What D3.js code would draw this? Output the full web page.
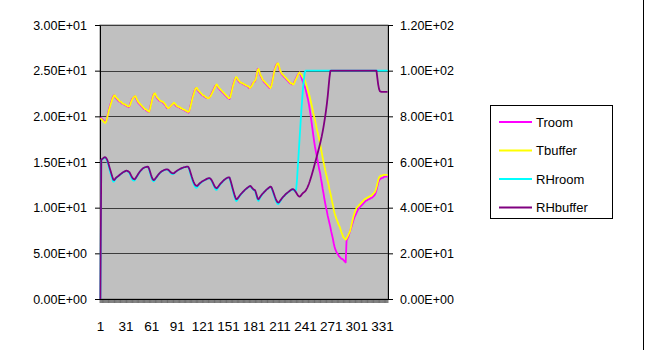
<!DOCTYPE html>
<html>
<head>
<meta charset="utf-8">
<script src="https://cdn.jsdelivr.net/npm/d3@7"></script>
<style>
body { margin: 0; background: #fff; }
svg text { font-family: "Liberation Sans", Arial, sans-serif; }
</style>
</head>
<body>
<div id="chart"></div>
<script>
// category index 1..337 (one sample each)
const categories = d3.range(1, 338);
const xLabels = [1, 31, 61, 91, 121, 151, 181, 211, 241, 271, 301, 331];
const leftTicks = [0, 5, 10, 15, 20, 25, 30];
const rightTicks = [0, 20, 40, 60, 80, 100, 120];
const seriesNames = ["Troom", "Tbuffer", "RHroom", "RHbuffer"];

const troom = [
19.9,19.8,19.7,19.6,19.5,19.4,19.4,19.6,20.0,20.4,
20.8,21.1,21.4,21.7,22.0,22.2,22.3,22.2,22.0,21.9,
21.8,21.7,21.6,21.6,21.5,21.4,21.4,21.3,21.3,21.2,
21.2,21.1,21.1,21.0,21.1,21.4,21.7,21.9,22.0,22.1,
22.2,22.1,21.9,21.7,21.5,21.4,21.3,21.2,21.1,21.0,
20.9,20.8,20.8,20.7,20.6,20.6,20.5,20.5,20.9,21.3,
21.7,22.1,22.4,22.5,22.4,22.2,22.0,21.9,21.8,21.7,
21.7,21.6,21.6,21.5,21.4,21.3,21.2,21.0,20.9,20.9,
20.9,21.0,21.1,21.2,21.3,21.4,21.4,21.3,21.2,21.1,
21.1,21.0,21.0,20.9,20.9,20.8,20.8,20.7,20.7,20.6,
20.6,20.5,20.5,20.4,20.6,21.0,21.4,21.8,22.2,22.5,
22.8,23.0,23.1,23.0,22.8,22.7,22.6,22.5,22.4,22.3,
22.3,22.2,22.1,22.1,22.0,22.0,22.0,22.0,22.1,22.3,
22.5,22.7,22.9,23.1,23.3,23.4,23.4,23.3,23.1,23.0,
22.9,22.8,22.7,22.6,22.5,22.4,22.3,22.2,22.1,22.0,
22.0,21.9,22.2,22.6,23.0,23.4,23.7,24.0,24.2,24.2,
24.1,23.9,23.8,23.7,23.7,23.6,23.6,23.5,23.5,23.4,
23.4,23.3,23.3,23.2,23.1,23.1,23.2,23.4,23.6,23.7,
23.8,23.8,24.2,24.7,25.2,25.1,24.8,24.5,24.3,24.1,
24.0,23.8,23.7,23.6,23.5,23.4,23.3,23.2,23.1,23.1,
23.4,23.8,24.3,24.8,25.2,25.5,25.7,25.8,25.7,25.3,
25.0,24.8,24.6,24.5,24.4,24.3,24.2,24.1,24.0,23.9,
23.8,23.7,23.6,23.6,23.5,23.5,23.6,23.8,24.0,24.2,
24.4,24.6,24.7,24.8,24.6,24.3,24.0,23.8,23.5,23.3,
23.0,22.6,22.2,21.8,21.3,20.7,20.1,19.4,18.7,18.0,
17.3,16.7,16.2,15.7,15.2,14.7,14.2,13.8,13.2,12.7,
12.1,11.6,11.0,10.5,10.0,9.6,9.1,8.7,8.3,7.9,
7.4,7.0,6.6,6.1,5.7,5.4,5.2,5.0,4.9,4.7,
4.6,4.5,4.4,4.4,4.3,4.2,4.1,4.0,6.4,6.6,
6.8,7.1,7.4,7.7,8.0,8.3,8.6,8.9,9.1,9.3,
9.5,9.7,9.9,10.0,10.1,10.2,10.3,10.4,10.5,10.6,
10.7,10.8,10.8,10.9,10.9,11.0,11.0,11.1,11.1,11.2,
11.3,11.4,11.6,11.9,12.3,12.7,13.0,13.1,13.2,13.2,
13.3,13.3,13.4,13.4,13.4,13.4,13.4
];

const tbuffer = [
19.8,19.7,19.6,19.5,19.4,19.3,19.3,19.5,19.9,20.3,
20.7,21.0,21.3,21.6,21.9,22.1,22.3,22.3,22.1,22.0,
21.9,21.8,21.7,21.6,21.6,21.5,21.4,21.4,21.3,21.3,
21.2,21.2,21.1,21.1,21.1,21.3,21.6,21.8,22.0,22.1,
22.2,22.2,22.0,21.8,21.6,21.5,21.4,21.3,21.2,21.1,
21.0,20.9,20.8,20.8,20.7,20.6,20.6,20.5,20.8,21.2,
21.6,22.0,22.3,22.5,22.5,22.3,22.1,22.0,21.9,21.8,
21.7,21.7,21.6,21.6,21.5,21.4,21.3,21.1,21.0,20.9,
20.9,21.0,21.1,21.2,21.3,21.4,21.5,21.4,21.3,21.2,
21.1,21.1,21.0,21.0,20.9,20.9,20.8,20.8,20.7,20.7,
20.6,20.6,20.5,20.5,20.6,20.9,21.3,21.7,22.1,22.4,
22.7,23.0,23.1,23.1,22.9,22.8,22.7,22.6,22.5,22.4,
22.3,22.3,22.2,22.1,22.1,22.0,22.0,22.0,22.1,22.2,
22.4,22.6,22.8,23.0,23.2,23.4,23.5,23.4,23.2,23.1,
23.0,22.9,22.8,22.7,22.6,22.5,22.4,22.3,22.2,22.1,
22.0,22.0,22.1,22.5,22.9,23.3,23.6,23.9,24.2,24.3,
24.2,24.0,23.9,23.8,23.7,23.7,23.6,23.6,23.5,23.5,
23.4,23.4,23.3,23.3,23.2,23.1,23.2,23.3,23.5,23.7,
23.8,23.9,24.1,24.6,25.1,25.2,24.9,24.6,24.4,24.2,
24.0,23.9,23.8,23.7,23.6,23.5,23.4,23.3,23.2,23.1,
23.3,23.7,24.2,24.7,25.1,25.4,25.6,25.8,25.8,25.5,
25.1,24.9,24.7,24.6,24.5,24.4,24.3,24.2,24.1,24.0,
23.9,23.8,23.7,23.6,23.6,23.5,23.5,23.7,23.9,24.1,
24.3,24.5,24.7,24.8,24.7,24.6,24.4,24.3,24.1,24.0,
23.7,23.4,23.1,22.8,22.5,22.1,21.7,21.3,20.9,20.4,
20.0,19.6,19.2,18.7,18.3,17.9,17.5,17.0,16.5,16.0,
15.5,15.0,14.6,14.1,13.7,13.3,12.9,12.5,12.0,11.6,
11.2,10.7,10.3,9.8,9.4,9.1,8.8,8.6,8.3,8.1,
7.9,7.6,7.3,7.1,6.8,6.7,6.6,6.5,6.6,6.8,
7.0,7.2,7.4,7.8,8.2,8.6,9.0,9.3,9.6,9.8,
10.0,10.1,10.2,10.3,10.4,10.5,10.6,10.7,10.8,10.9,
11.0,11.0,11.1,11.1,11.2,11.2,11.3,11.3,11.4,11.5,
11.6,11.7,11.9,12.2,12.6,13.0,13.3,13.4,13.5,13.5,
13.5,13.6,13.6,13.6,13.6,13.6,13.6
];

const rhroom = [
0,60.8,61.1,61.4,61.7,61.9,61.8,61.2,60.3,59.0,
57.6,56.2,54.8,53.5,52.3,51.4,51.5,52.1,52.7,53.1,
53.5,53.8,54.1,54.4,54.7,55.0,55.3,55.5,55.7,55.9,
56.1,56.1,55.8,55.5,55.0,54.2,53.3,52.5,52.0,51.8,
51.9,52.5,53.2,53.8,54.4,55.0,55.6,56.1,56.5,56.9,
57.2,57.4,57.6,57.7,57.8,57.9,57.7,56.6,55.3,54.0,
52.8,51.9,51.5,51.7,52.3,52.9,53.4,54.0,54.5,54.9,
55.3,55.6,55.9,56.1,56.3,56.5,56.6,56.7,56.7,56.5,
56.2,55.7,55.2,54.9,54.7,54.7,54.9,55.3,55.6,55.9,
56.2,56.4,56.6,56.8,57.0,57.2,57.3,57.5,57.6,57.7,
57.8,57.9,57.9,57.6,56.6,55.2,53.9,52.6,51.5,50.5,
49.7,49.0,48.7,48.8,49.3,49.8,50.3,50.7,51.0,51.3,
51.6,51.8,52.0,52.2,52.4,52.6,52.7,52.8,52.8,52.4,
51.8,51.0,50.1,49.2,48.4,47.9,47.8,48.3,48.9,49.5,
50.0,50.5,50.9,51.3,51.7,52.1,52.4,52.7,52.9,53.1,
53.2,53.1,51.7,50.3,48.8,47.3,45.9,44.6,43.5,42.9,
43.2,43.9,44.5,45.1,45.6,46.0,46.5,46.9,47.3,47.7,
48.0,48.3,48.6,48.9,49.2,49.4,49.2,48.6,48.1,47.8,
47.6,47.3,46.0,44.6,43.4,43.0,43.7,44.4,45.0,45.6,
46.1,46.5,46.9,47.3,47.7,48.0,48.3,48.6,48.9,49.1,
48.8,47.8,46.7,45.5,44.3,43.3,42.4,41.7,41.5,41.9,
42.5,43.1,43.7,44.2,44.7,45.1,45.5,45.9,46.2,46.5,
46.8,47.1,47.4,47.7,47.9,48.0,47.8,47.4,47.0,48.0,
52.0,58.0,64.0,70.0,76.0,82.0,87.0,92.0,96.0,99.0,
100,100,100,100,100,100,100,100,100,100,
100,100,100,100,100,100,100,100,100,100,
100,100,100,100,100,100,100,100,100,100,
100,100,100,100,100,100,100,100,100,100,
100,100,100,100,100,100,100,100,100,100,
100,100,100,100,100,100,100,100,100,100,
100,100,100,100,100,100,100,100,100,100,
100,100,100,100,100,100,100,100,100,100,
100,100,100,100,100,100,100,100,100,100,
100,100,100,100,100,100,100
];

const rhbuffer = [
0,61.0,61.3,61.6,61.9,62.1,62.0,61.6,60.9,59.8,
58.5,57.2,55.9,54.6,53.4,52.3,52.1,52.5,53.0,53.3,
53.6,53.9,54.2,54.5,54.8,55.1,55.4,55.6,55.8,56.0,
56.2,56.2,56.0,55.8,55.5,54.8,54.0,53.3,52.8,52.5,
52.4,52.8,53.4,54.0,54.6,55.2,55.7,56.2,56.6,57.0,
57.3,57.5,57.7,57.8,57.9,58.0,57.9,57.0,55.8,54.6,
53.5,52.6,52.1,52.2,52.6,53.1,53.6,54.1,54.6,55.0,
55.4,55.7,56.0,56.2,56.4,56.6,56.7,56.8,56.8,56.7,
56.4,56.0,55.6,55.3,55.1,55.0,55.1,55.4,55.7,56.0,
56.3,56.5,56.7,56.9,57.1,57.3,57.4,57.6,57.7,57.8,
57.9,58.0,58.0,57.8,57.0,55.8,54.6,53.4,52.3,51.3,
50.5,49.9,49.6,49.5,49.8,50.2,50.6,50.9,51.2,51.5,
51.7,51.9,52.1,52.3,52.5,52.7,52.8,52.9,52.9,52.6,
52.1,51.4,50.6,49.8,49.1,48.7,48.5,48.8,49.3,49.8,
50.3,50.7,51.1,51.5,51.9,52.2,52.5,52.8,53.0,53.2,
53.3,53.3,52.2,50.9,49.5,48.1,46.8,45.5,44.4,43.7,
43.8,44.3,44.8,45.3,45.8,46.2,46.6,47.0,47.4,47.8,
48.1,48.4,48.7,49.0,49.3,49.5,49.4,48.9,48.4,48.0,
47.8,47.6,46.5,45.2,44.0,43.7,44.2,44.8,45.3,45.8,
46.2,46.6,47.0,47.4,47.8,48.1,48.4,48.7,49.0,49.2,
49.0,48.2,47.2,46.1,45.0,44.0,43.1,42.5,42.2,42.4,
42.9,43.4,43.9,44.4,44.8,45.2,45.6,46.0,46.3,46.6,
46.9,47.2,47.5,47.8,48.0,48.1,48.0,47.7,47.2,46.6,
46.0,45.4,45.0,44.8,45.0,45.5,46.0,46.4,46.7,47.0,
47.4,48.0,48.7,49.5,50.5,51.6,52.8,54.0,55.3,56.6,
58.0,59.4,60.8,62.2,63.6,65.0,66.5,68.0,69.6,71.3,
73.2,75.3,77.6,80.0,82.6,85.6,89.0,93.0,97.0,99.8,
100,100,100,100,100,100,100,100,100,100,
100,100,100,100,100,100,100,100,100,100,
100,100,100,100,100,100,100,100,100,100,
100,100,100,100,100,100,100,100,100,100,
100,100,100,100,100,100,100,100,100,100,
100,100,100,100,97.0,94.0,92.0,91.0,90.8,90.7,
90.7,90.7,90.7,90.7,90.7,90.7,90.7
];

const colors = ["#FF00FF", "#FFFF00", "#00FFFF", "#800080"];

const W = 645, H = 350;
const padL = 100, padR = 388, padT = 25, padB = 299;

const svg = d3.select("#chart").append("svg")
    .attr("width", W)
    .attr("height", H);

const x = d3.scaleBand().domain(categories).range([padL, padR]);
const yL = d3.scaleLinear().domain([0, 30]).range([padB, padT]);
const yR = d3.scaleLinear().domain([0, 120]).range([padB, padT]);

function sci(v){
    // Excel style 0.00E+00
    let s = v.toExponential(2).toUpperCase();
    let parts = s.split("E");
    let exp = parseInt(parts[1]);
    let sign = exp < 0 ? "-" : "+";
    let e = Math.abs(exp);
    return parts[0] + "E" + sign + (e < 10 ? "0" + e : e);
}

// plot area
svg.append("rect")
    .attr("x", padL).attr("y", padT)
    .attr("width", padR - padL).attr("height", padB - padT)
    .attr("fill", "#C0C0C0")
    .attr("stroke", "#808080");

// gridlines
svg.selectAll(".grid")
    .data(leftTicks.filter(d => d > 0))
    .enter()
    .append("line")
    .attr("x1", padL).attr("x2", padR)
    .attr("y1", d => Math.round(yL(d)) + 0.5)
    .attr("y2", d => Math.round(yL(d)) + 0.5)
    .attr("stroke", "#3c3c3c");

// axes
const gl = svg.append("g")
    .attr("transform", "translate(" + padL + ",0)")
    .call(d3.axisLeft(yL).tickValues(leftTicks).tickFormat(sci).tickSize(5).tickSizeOuter(0).tickPadding(8));
const gr = svg.append("g")
    .attr("transform", "translate(" + padR + ",0)")
    .call(d3.axisRight(yR).tickValues(rightTicks).tickFormat(sci).tickSize(5).tickSizeOuter(0).tickPadding(7));
[gl, gr].forEach(g => {
    g.selectAll("text").attr("font-size", 12.5).attr("fill", "#000")
        .style("font-family", "'Liberation Sans', Arial, sans-serif");
    g.select(".domain").attr("stroke", "#000");
    g.selectAll(".tick line").attr("stroke", "#000");
});

// category ticks along the bottom
const bw = x.bandwidth();
svg.selectAll(".ctick")
    .data(categories.concat([categories.length + 1]))
    .enter()
    .append("line")
    .attr("x1", (d, i) => padL + i * bw)
    .attr("x2", (d, i) => padL + i * bw)
    .attr("y1", padB)
    .attr("y2", padB + 4)
    .attr("stroke", "#000")
    .attr("stroke-width", 0.5);

svg.append("line")
    .attr("x1", padL).attr("x2", padR)
    .attr("y1", padB + 0.5).attr("y2", padB + 0.5)
    .attr("stroke", "#000");

svg.selectAll(".xlab")
    .data(xLabels)
    .enter()
    .append("text")
    .attr("x", d => x(d) + bw / 2)
    .attr("y", 331)
    .attr("text-anchor", "middle")
    .attr("font-size", 13.5)
    .text(d => d);

// series
const lineL = d3.line().x((d, i) => x(categories[i]) + bw / 2).y(d => yL(d));
const lineR = d3.line().x((d, i) => x(categories[i]) + bw / 2).y(d => yR(d));

const series = [
    {name: seriesNames[0], values: troom, line: lineL},
    {name: seriesNames[1], values: tbuffer, line: lineL},
    {name: seriesNames[2], values: rhroom, line: lineR},
    {name: seriesNames[3], values: rhbuffer, line: lineR}
];

series.forEach((s, i) => {
    svg.append("path")
        .attr("d", s.line(s.values))
        .attr("fill", "none")
        .attr("stroke", colors[i])
        .attr("stroke-width", 1.8)
        .attr("stroke-linejoin", "round");
});

// legend
const lg = svg.append("g");
lg.append("rect")
    .attr("x", 490.5).attr("y", 105.5)
    .attr("width", 122).attr("height", 113)
    .attr("fill", "#fff")
    .attr("stroke", "#000");
seriesNames.forEach((n, i) => {
    let yy = 122 + i * 28.5;
    lg.append("line")
        .attr("x1", 499).attr("x2", 532)
        .attr("y1", yy).attr("y2", yy)
        .attr("stroke", colors[i])
        .attr("stroke-width", 1.8);
    lg.append("text")
        .attr("x", 536).attr("y", yy + 4.5)
        .attr("font-size", 13)
        .text(n);
});

// chart area border (right side)
svg.append("line")
    .attr("x1", 643.5).attr("x2", 643.5)
    .attr("y1", 0).attr("y2", H)
    .attr("stroke", "#000");
</script>
</body>
</html>
